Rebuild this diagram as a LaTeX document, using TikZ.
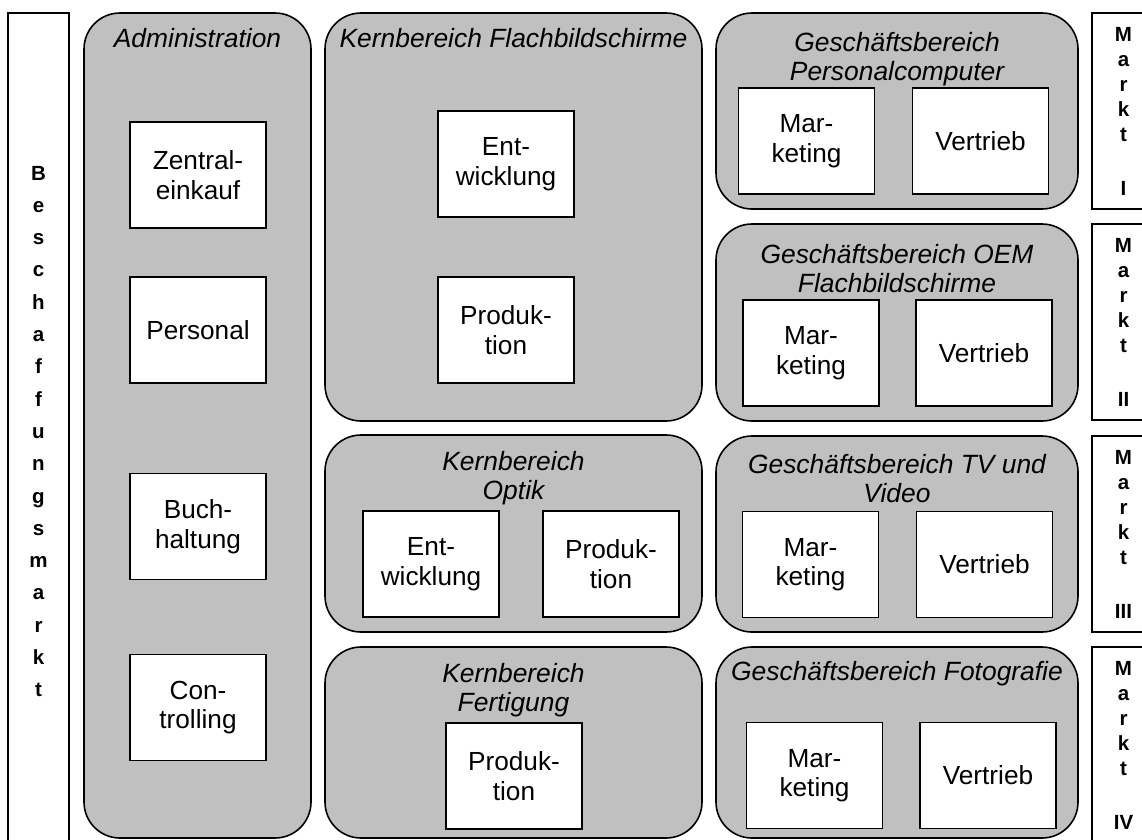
\documentclass[tikz,border=0pt]{standalone}
\usepackage{fontspec}
\setmainfont{Liberation Sans}
\definecolor{areagray}{RGB}{192,192,192}
\begin{document}
\begin{tikzpicture}[x=1pt,y=-1pt,
  area/.style={draw=black, line width=1.6pt, fill=areagray, rounded corners=36pt, inner sep=0pt, outer sep=0pt},
  unit/.style={draw=black, line width=1.5pt, fill=white, align=center, inner sep=0pt, outer sep=0pt,
    minimum width=136pt, minimum height=106pt, font=\fontsize{26.2}{29.5}\selectfont},
  title/.style={align=center, anchor=north, inner sep=0pt, font=\fontsize{26.4}{29.5}\selectfont\itshape},
  market/.style={draw=black, line width=1.5pt, fill=white, inner sep=0pt, outer sep=0pt},
  vlabel/.style={align=center, inner sep=0pt, font=\fontsize{20.5}{25}\selectfont\bfseries}
]
\useasboundingbox (0,0) rectangle (1142,839);

% procurement market on the left
\node[market, minimum width=61pt, minimum height=837pt] (beschaffung) at (38.5,431.5) {};
\node[vlabel, font=\fontsize{20.5}{32.3}\selectfont\bfseries] (beschaffungtext) at (beschaffung.center)
  {B\\e\\s\\c\\h\\a\\f\\f\\u\\n\\g\\s\\m\\a\\r\\k\\t};

% administration
\node[area, minimum width=227pt, minimum height=825pt] (admin) at (197.5,425.5) {};
\node[title] (admintitle) at (197.5,28) {Administration};
\node[unit] (zentral) at (198,175) {Zentral-\\einkauf};
\node[unit] (personal) at (198,330) {Personal};
\node[unit] (buch) at (198,526.5) {Buch-\\haltung};
\node[unit] (controlling) at (198,707.5) {Con-\\trolling};

% core division flat panel displays
\node[area, minimum width=377pt, minimum height=408pt] (flach) at (513.5,217) {};
\node[title] (flachtitle) at (513.5,28) {Kernbereich Flachbildschirme};
\node[unit] (flachent) at (506,164) {Ent-\\wicklung};
\node[unit] (flachprod) at (506,330) {Produk-\\tion};

% core division optics
\node[area, minimum width=377pt, minimum height=197pt] (optik) at (513.5,533.5) {};
\node[title] (optiktitle) at (513.5,451) {Kernbereich\\Optik};
\node[unit] (optikent) at (431,564) {Ent-\\wicklung};
\node[unit] (optikprod) at (611,564) {Produk-\\tion};

% core division manufacturing
\node[area, minimum width=377pt, minimum height=191pt] (fert) at (513.5,742.5) {};
\node[title] (ferttitle) at (513.5,663) {Kernbereich\\Fertigung};
\node[unit] (fertprod) at (514,776) {Produk-\\tion};

% business divisions
\node[area, minimum width=362pt, minimum height=196pt] (pc) at (897,111) {};
\node[title] (pctitle) at (897,32) {Geschäftsbereich\\Personalcomputer};
\node[unit] (pcmark) at (806.5,141) {Mar-\\keting};
\node[unit] (pcvert) at (980.5,141) {Vertrieb};

\node[area, minimum width=362pt, minimum height=197pt] (oem) at (897,322.5) {};
\node[title] (oemtitle) at (897,244) {Geschäftsbereich OEM\\Flachbildschirme};
\node[unit] (oemmark) at (811,353) {Mar-\\keting};
\node[unit] (oemvert) at (984,353) {Vertrieb};

\node[area, minimum width=362pt, minimum height=196pt] (tv) at (897,534) {};
\node[title] (tvtitle) at (897,454) {Geschäftsbereich TV und\\Video};
\node[unit] (tvmark) at (810.5,564.5) {Mar-\\keting};
\node[unit] (tvvert) at (984.5,564.5) {Vertrieb};

\node[area, minimum width=362pt, minimum height=191pt] (foto) at (897,742.5) {};
\node[title] (fototitle) at (897,661) {Geschäftsbereich Fotografie};
\node[unit] (fotomark) at (814.5,775.5) {Mar-\\keting};
\node[unit] (fotovert) at (988,775.5) {Vertrieb};

% sales markets on the right
\node[market, minimum width=63pt, minimum height=196pt] (markt1) at (1123.5,111) {};
\node[vlabel] (markt1text) at (markt1.center) {M\\a\\r\\k\\t\\[29pt]I};
\node[market, minimum width=63pt, minimum height=196pt] (markt2) at (1123.5,322) {};
\node[vlabel] (markt2text) at (markt2.center) {M\\a\\r\\k\\t\\[29pt]II};
\node[market, minimum width=63pt, minimum height=196pt] (markt3) at (1123.5,534) {};
\node[vlabel] (markt3text) at (markt3.center) {M\\a\\r\\k\\t\\[29pt]III};
\node[market, minimum width=63pt, minimum height=196pt] (markt4) at (1123.5,745) {};
\node[vlabel] (markt4text) at (markt4.center) {M\\a\\r\\k\\t\\[29pt]IV};
\end{tikzpicture}
\end{document}
